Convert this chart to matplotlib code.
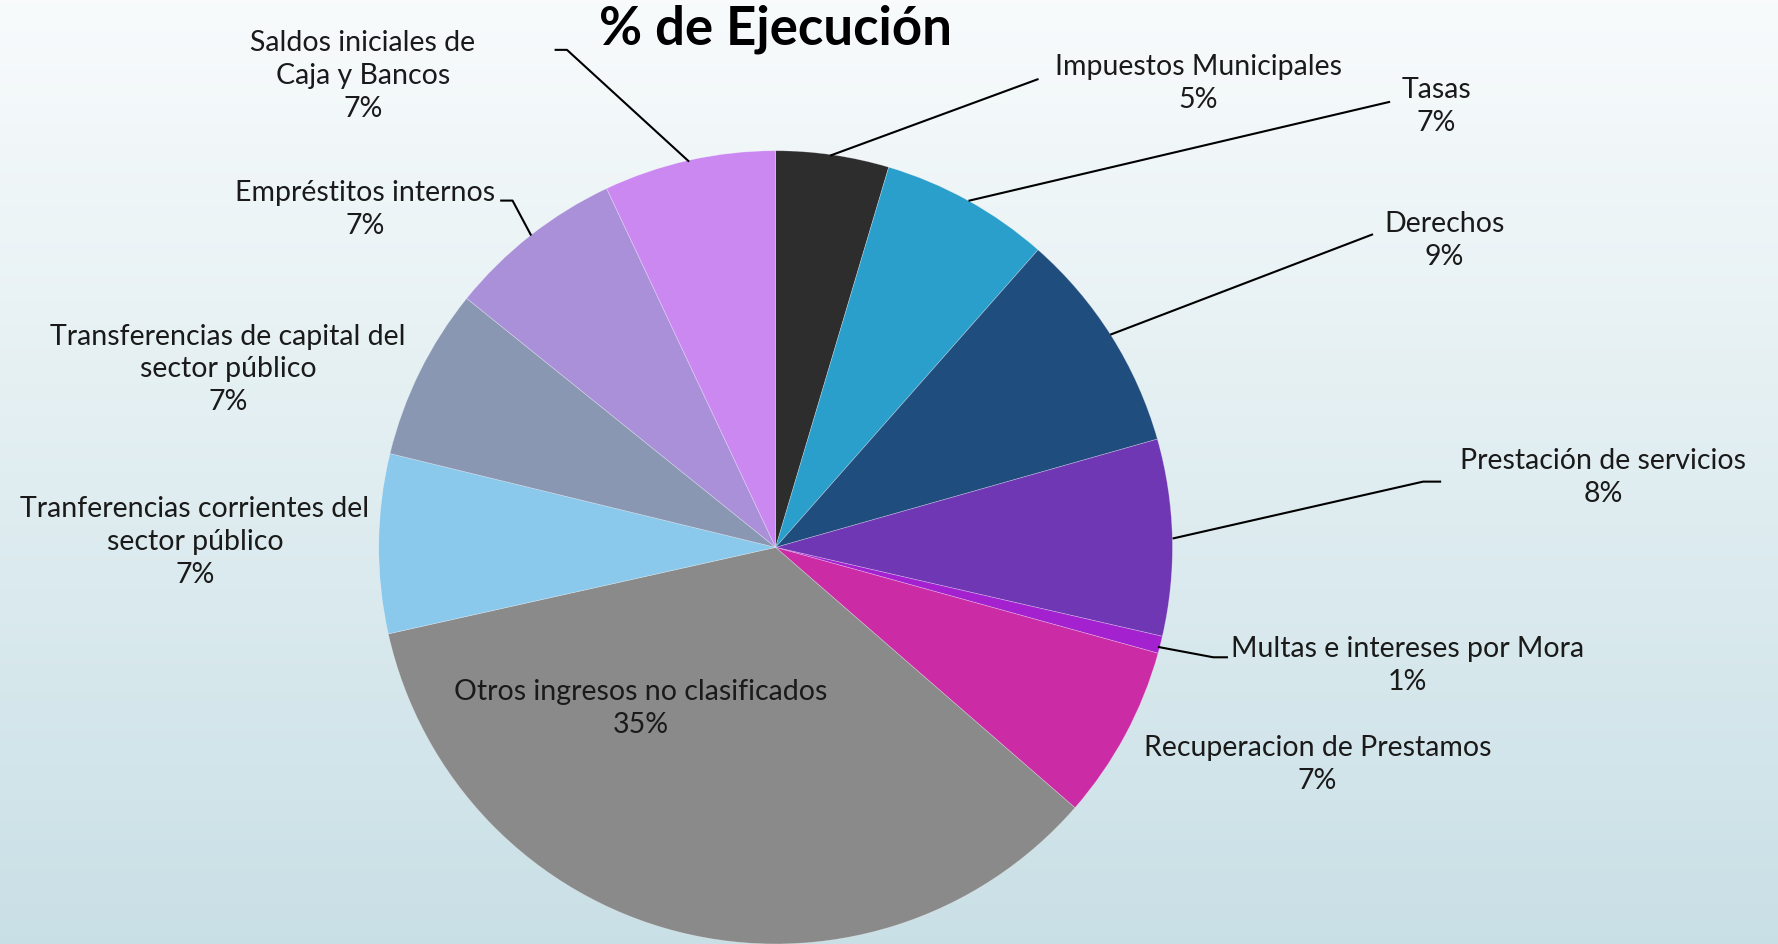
import matplotlib.pyplot as plt
import numpy as np

# Datos del grafico
categorias = ['Impuestos Municipales', 'Tasas', 'Derechos', 'Prestación de servicios',
              'Multas e intereses por Mora', 'Recuperacion de Prestamos',
              'Otros ingresos no clasificados', 'Tranferencias corrientes del\nsector público',
              'Transferencias de capital del\nsector público', 'Empréstitos internos',
              'Saldos iniciales de\nCaja y Bancos']
valores = [4.6, 6.9, 9.1, 8.0, 0.7, 7.1, 35.1, 7.3, 7.0, 7.2, 7.0]
colores = ['#2d2d2d', '#2a9fcc', '#1f4e7e', '#6f37b3', '#a421d0', '#cc2ba6',
           '#8a8a8a', '#8ac8ec', '#8a97b3', '#a990d9', '#cb88f0']

W, H = 1568, 833

# posiciones de etiquetas (x, y de la imagen) y lineas guia
pos_etiquetas = [(1057, 74), (1267, 94), (1274, 212), (1414, 421), (1241, 587),
                 (1162, 675), (565, 625), (172, 478), (201, 326), (322, 185), (320, 67)]
guias = [[(915, 70), (733, 137)],
         [(1225, 90), (855, 177)],
         [(1210, 207), (980, 295)],
         [(1270, 425), (1255, 425), (1035, 475)],
         [(1082, 580), (1070, 580), (1022, 571)],
         None, None, None, None,
         [(442, 177), (452, 177), (468, 207)],
         [(490, 44), (500, 44), (607, 142)]]

plt.rcParams['font.family'] = ['Lato', 'DejaVu Sans']

fig = plt.figure(figsize=(17.78, 9.44), dpi=100)
ax = fig.add_axes([0, 0, 1, 1])

# fondo degradado
grad = np.linspace(0, 1, 256).reshape(-1, 1)
top = np.array([0.973, 0.984, 0.988])
bottom = np.array([0.788, 0.878, 0.902])
img = top + (bottom - top) * grad[:, :, None]
ax.imshow(img, extent=[0, W, 0, H], aspect='auto', zorder=0)

ax.pie(valores, colors=colores, startangle=90, counterclock=False,
       center=(684, H - 483), radius=350, frame=True,
       wedgeprops=dict(edgecolor=(1, 1, 1, 0.35), linewidth=0.5, zorder=2))
ax.set_xlim(0, W)
ax.set_ylim(0, H)
ax.set_aspect('auto')
ax.axis('off')

total = sum(valores)
for i, nombre in enumerate(categorias):
    pct = round(valores[i] / total * 100)
    x, y = pos_etiquetas[i]
    ax.text(x, H - y, f'{nombre}\n{pct}%', ha='center', va='center',
            fontsize=20.5, color='#1a1a1a', linespacing=1.33, zorder=5)
    if guias[i]:
        xs = [p[0] for p in guias[i]]
        ys = [H - p[1] for p in guias[i]]
        ax.plot(xs, ys, color='black', lw=1.5, zorder=4)

ax.text(684, H - 26, '% de Ejecución', ha='center', va='center',
        fontsize=38, fontweight='bold', color='black', zorder=5)

fig.savefig('out.png', dpi=100)
